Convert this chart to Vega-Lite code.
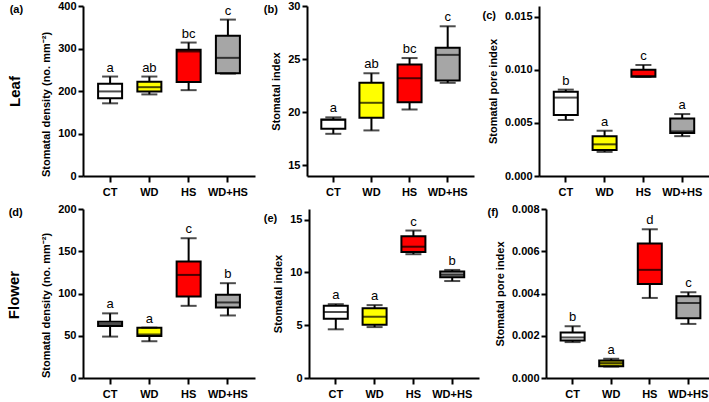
{
"$schema": "https://vega.github.io/schema/vega-lite/v6.json",
"padding": {"left": 6, "top": 0, "right": 0, "bottom": 0},
"datasets": {"d": [
{"panel":"a","group":"CT","lo":171,"q1":183,"med":199,"q3":217,"hi":234,"letter":"a"},
{"panel":"a","group":"WD","lo":192,"q1":199,"med":209,"q3":222,"hi":234,"letter":"ab"},
{"panel":"a","group":"HS","lo":202,"q1":221,"med":293,"q3":297,"hi":314,"letter":"bc"},
{"panel":"a","group":"WD+HS","lo":241,"q1":242,"med":278,"q3":330,"hi":368,"letter":"c"},
{"panel":"b","group":"CT","lo":17.97,"q1":18.45,"med":19.28,"q3":19.32,"hi":19.52,"letter":"a"},
{"panel":"b","group":"WD","lo":18.29,"q1":19.48,"med":20.89,"q3":22.77,"hi":23.67,"letter":"ab"},
{"panel":"b","group":"HS","lo":20.26,"q1":20.95,"med":23.2,"q3":24.5,"hi":25.1,"letter":"bc"},
{"panel":"b","group":"WD+HS","lo":22.77,"q1":23.0,"med":25.4,"q3":26.06,"hi":28.09,"letter":"c"},
{"panel":"c","group":"CT","lo":0.00527,"q1":0.00574,"med":0.00738,"q3":0.00792,"hi":0.00813,"letter":"b"},
{"panel":"c","group":"WD","lo":0.00227,"q1":0.00245,"med":0.00298,"q3":0.00373,"hi":0.00426,"letter":"a"},
{"panel":"c","group":"HS","lo":0.00934,"q1":0.00934,"med":0.0094,"q3":0.0100,"hi":0.01045,"letter":"c"},
{"panel":"c","group":"WD+HS","lo":0.00375,"q1":0.00405,"med":0.0042,"q3":0.00542,"hi":0.00583,"letter":"a"},
{"panel":"d","group":"CT","lo":49,"q1":61.6,"med":63.9,"q3":66.7,"hi":76.5,"letter":"a"},
{"panel":"d","group":"WD","lo":43.5,"q1":49.8,"med":51.5,"q3":59.6,"hi":59.6,"letter":"a"},
{"panel":"d","group":"HS","lo":85.4,"q1":96.5,"med":122,"q3":137.8,"hi":165.4,"letter":"c"},
{"panel":"d","group":"WD+HS","lo":74,"q1":83.5,"med":89.4,"q3":98.4,"hi":112.2,"letter":"b"},
{"panel":"e","group":"CT","lo":4.61,"q1":5.6,"med":6.25,"q3":6.85,"hi":6.99,"letter":"a"},
{"panel":"e","group":"WD","lo":4.82,"q1":5.03,"med":5.8,"q3":6.61,"hi":6.9,"letter":"a"},
{"panel":"e","group":"HS","lo":11.72,"q1":11.93,"med":12.43,"q3":13.42,"hi":13.96,"letter":"c"},
{"panel":"e","group":"WD+HS","lo":9.18,"q1":9.54,"med":9.78,"q3":10.08,"hi":10.23,"letter":"b"},
{"panel":"f","group":"CT","lo":0.0017,"q1":0.00178,"med":0.00192,"q3":0.00215,"hi":0.00245,"letter":"b"},
{"panel":"f","group":"WD","lo":0.00054,"q1":0.00056,"med":0.0007,"q3":0.00083,"hi":0.00091,"letter":"a"},
{"panel":"f","group":"HS","lo":0.00379,"q1":0.00445,"med":0.00512,"q3":0.00637,"hi":0.00704,"letter":"d"},
{"panel":"f","group":"WD+HS","lo":0.00256,"q1":0.00283,"med":0.00355,"q3":0.00387,"hi":0.00406,"letter":"c"}
]},
"data": {"name": "d"},
"spacing": 6,
"resolve": {"scale": {"color": "independent"}},
"vconcat": [
{
"title": {"text": "Leaf", "orient": "left", "anchor": "middle", "fontSize": 15, "offset": -13, "dx": 7},
"spacing": 8,
"resolve": {"scale": {"color": "independent"}},
"hconcat": [
{
"width": 172, "height": 170,
"title": {"text": "(a)", "anchor": "start", "frame": "bounds", "offset": -15, "dx": -31},
"transform": [{"filter": "datum.panel === 'a'"}],
"encoding": {"x": {"field": "group", "type": "nominal", "sort": ["CT","WD","HS","WD+HS"], "scale": {"paddingInner": 0.4, "paddingOuter": 0.39}, "axis": {"title": null, "labelAngle": 0}}},
"layer": [
{"mark": {"type": "rule", "strokeWidth": 2, "color": "black"}, "encoding": {"y": {"field": "lo", "type": "quantitative", "scale": {"domain": [0, 400]}, "axis": {"title": "Stomatal density (no. mm⁻²)", "values": [0,100,200,300,400], "titleY": 98}}, "y2": {"field": "hi"}}},
{"mark": {"type": "bar", "width": 24, "stroke": "black", "strokeWidth": 2}, "encoding": {"y": {"field": "q1", "type": "quantitative"}, "y2": {"field": "q3"}, "color": {"field": "group", "type": "nominal", "scale": {"domain": ["CT","WD","HS","WD+HS"], "range": ["#ffffff","#ffff00","#ff0000","#a6a6a6"]}, "legend": null}}},
{"mark": {"type": "tick", "size": 24, "thickness": 2, "color": "black"}, "encoding": {"y": {"field": "med", "type": "quantitative"}}},
{"mark": {"type": "tick", "size": 16, "thickness": 2, "color": "black"}, "encoding": {"y": {"field": "lo", "type": "quantitative"}}},
{"mark": {"type": "tick", "size": 16, "thickness": 2, "color": "black"}, "encoding": {"y": {"field": "hi", "type": "quantitative"}}},
{"mark": {"type": "text", "dy": -5, "baseline": "alphabetic", "fontSize": 13, "color": "black"}, "encoding": {"y": {"field": "hi", "type": "quantitative"}, "text": {"field": "letter"}}}
]
},
{
"width": 167, "height": 170,
"title": {"text": "(b)", "anchor": "start", "frame": "bounds", "offset": -15, "dx": -7},
"transform": [{"filter": "datum.panel === 'b'"}],
"encoding": {"x": {"field": "group", "type": "nominal", "sort": ["CT","WD","HS","WD+HS"], "scale": {"paddingInner": 0.4, "paddingOuter": 0.39}, "axis": {"title": null, "labelAngle": 0}}},
"layer": [
{"mark": {"type": "rule", "strokeWidth": 2, "color": "black"}, "encoding": {"y": {"field": "lo", "type": "quantitative", "scale": {"domain": [15, 30], "zero": false}, "axis": {"title": "Stomatal index", "values": [15,20,25,30]}}, "y2": {"field": "hi"}}},
{"mark": {"type": "bar", "width": 24, "stroke": "black", "strokeWidth": 2}, "encoding": {"y": {"field": "q1", "type": "quantitative"}, "y2": {"field": "q3"}, "color": {"field": "group", "type": "nominal", "scale": {"domain": ["CT","WD","HS","WD+HS"], "range": ["#ffffff","#ffff00","#ff0000","#a6a6a6"]}, "legend": null}}},
{"mark": {"type": "tick", "size": 24, "thickness": 2, "color": "black"}, "encoding": {"y": {"field": "med", "type": "quantitative"}}},
{"mark": {"type": "tick", "size": 16, "thickness": 2, "color": "black"}, "encoding": {"y": {"field": "lo", "type": "quantitative"}}},
{"mark": {"type": "tick", "size": 16, "thickness": 2, "color": "black"}, "encoding": {"y": {"field": "hi", "type": "quantitative"}}},
{"mark": {"type": "text", "dy": -5, "baseline": "alphabetic", "fontSize": 13, "color": "black"}, "encoding": {"y": {"field": "hi", "type": "quantitative"}, "text": {"field": "letter"}}}
]
},
{
"width": 170, "height": 170,
"title": {"text": "(c)", "anchor": "start", "frame": "bounds", "offset": -15, "dx": -5},
"transform": [{"filter": "datum.panel === 'c'"}],
"encoding": {"x": {"field": "group", "type": "nominal", "sort": ["CT","WD","HS","WD+HS"], "scale": {"paddingInner": 0.4, "paddingOuter": 0.39}, "axis": {"title": null, "labelAngle": 0}}},
"layer": [
{"mark": {"type": "rule", "strokeWidth": 2, "color": "black"}, "encoding": {"y": {"field": "lo", "type": "quantitative", "scale": {"domain": [0, 0.015]}, "axis": {"title": "Stomatal pore index", "values": [0,0.005,0.01,0.015], "format": ".3f"}}, "y2": {"field": "hi"}}},
{"mark": {"type": "bar", "width": 24, "stroke": "black", "strokeWidth": 2}, "encoding": {"y": {"field": "q1", "type": "quantitative"}, "y2": {"field": "q3"}, "color": {"field": "group", "type": "nominal", "scale": {"domain": ["CT","WD","HS","WD+HS"], "range": ["#ffffff","#ffff00","#ff0000","#a6a6a6"]}, "legend": null}}},
{"mark": {"type": "tick", "size": 24, "thickness": 2, "color": "black"}, "encoding": {"y": {"field": "med", "type": "quantitative"}}},
{"mark": {"type": "tick", "size": 16, "thickness": 2, "color": "black"}, "encoding": {"y": {"field": "lo", "type": "quantitative"}}},
{"mark": {"type": "tick", "size": 16, "thickness": 2, "color": "black"}, "encoding": {"y": {"field": "hi", "type": "quantitative"}}},
{"mark": {"type": "text", "dy": -5, "baseline": "alphabetic", "fontSize": 13, "color": "black"}, "encoding": {"y": {"field": "hi", "type": "quantitative"}, "text": {"field": "letter"}}}
]
}
]
},
{
"title": {"text": "Flower", "orient": "left", "anchor": "middle", "fontSize": 15, "offset": -13, "dx": 6},
"spacing": 8,
"resolve": {"scale": {"color": "independent"}},
"hconcat": [
{
"width": 172, "height": 169,
"title": {"text": "(d)", "anchor": "start", "frame": "bounds", "offset": -15, "dx": -32},
"transform": [{"filter": "datum.panel === 'd'"}],
"encoding": {"x": {"field": "group", "type": "nominal", "sort": ["CT","WD","HS","WD+HS"], "scale": {"paddingInner": 0.4, "paddingOuter": 0.39}, "axis": {"title": null, "labelAngle": 0}}},
"layer": [
{"mark": {"type": "rule", "strokeWidth": 2, "color": "black"}, "encoding": {"y": {"field": "lo", "type": "quantitative", "scale": {"domain": [0, 200]}, "axis": {"title": "Stomatal density (no. mm⁻²)", "values": [0,50,100,150,200], "titleY": 96}}, "y2": {"field": "hi"}}},
{"mark": {"type": "bar", "width": 24, "stroke": "black", "strokeWidth": 2}, "encoding": {"y": {"field": "q1", "type": "quantitative"}, "y2": {"field": "q3"}, "color": {"field": "group", "type": "nominal", "scale": {"domain": ["CT","WD","HS","WD+HS"], "range": ["#ffffff","#ffff00","#ff0000","#a6a6a6"]}, "legend": null}}},
{"mark": {"type": "tick", "size": 24, "thickness": 2, "color": "black"}, "encoding": {"y": {"field": "med", "type": "quantitative"}}},
{"mark": {"type": "tick", "size": 16, "thickness": 2, "color": "black"}, "encoding": {"y": {"field": "lo", "type": "quantitative"}}},
{"mark": {"type": "tick", "size": 16, "thickness": 2, "color": "black"}, "encoding": {"y": {"field": "hi", "type": "quantitative"}}},
{"mark": {"type": "text", "dy": -5, "baseline": "alphabetic", "fontSize": 13, "color": "black"}, "encoding": {"y": {"field": "hi", "type": "quantitative"}, "text": {"field": "letter"}}}
]
},
{
"width": 170, "height": 169,
"title": {"text": "(e)", "anchor": "start", "frame": "bounds", "offset": -15, "dx": -9},
"transform": [{"filter": "datum.panel === 'e'"}],
"encoding": {"x": {"field": "group", "type": "nominal", "sort": ["CT","WD","HS","WD+HS"], "scale": {"paddingInner": 0.4, "paddingOuter": 0.39}, "axis": {"title": null, "labelAngle": 0}}},
"layer": [
{"mark": {"type": "rule", "strokeWidth": 2, "color": "black"}, "encoding": {"y": {"field": "lo", "type": "quantitative", "scale": {"domain": [0, 15]}, "axis": {"title": "Stomatal index", "values": [0,5,10,15]}}, "y2": {"field": "hi"}}},
{"mark": {"type": "bar", "width": 24, "stroke": "black", "strokeWidth": 2}, "encoding": {"y": {"field": "q1", "type": "quantitative"}, "y2": {"field": "q3"}, "color": {"field": "group", "type": "nominal", "scale": {"domain": ["CT","WD","HS","WD+HS"], "range": ["#ffffff","#ffff00","#ff0000","#a6a6a6"]}, "legend": null}}},
{"mark": {"type": "tick", "size": 24, "thickness": 2, "color": "black"}, "encoding": {"y": {"field": "med", "type": "quantitative"}}},
{"mark": {"type": "tick", "size": 16, "thickness": 2, "color": "black"}, "encoding": {"y": {"field": "lo", "type": "quantitative"}}},
{"mark": {"type": "tick", "size": 16, "thickness": 2, "color": "black"}, "encoding": {"y": {"field": "hi", "type": "quantitative"}}},
{"mark": {"type": "text", "dy": -5, "baseline": "alphabetic", "fontSize": 13, "color": "black"}, "encoding": {"y": {"field": "hi", "type": "quantitative"}, "text": {"field": "letter"}}}
]
},
{
"width": 169, "height": 169,
"title": {"text": "(f)", "anchor": "start", "frame": "bounds", "offset": -15, "dx": -7},
"transform": [{"filter": "datum.panel === 'f'"}],
"encoding": {"x": {"field": "group", "type": "nominal", "sort": ["CT","WD","HS","WD+HS"], "scale": {"paddingInner": 0.4, "paddingOuter": 0.39}, "axis": {"title": null, "labelAngle": 0}}},
"layer": [
{"mark": {"type": "rule", "strokeWidth": 2, "color": "black"}, "encoding": {"y": {"field": "lo", "type": "quantitative", "scale": {"domain": [0, 0.008]}, "axis": {"title": "Stomatal pore index", "values": [0,0.002,0.004,0.006,0.008], "format": ".3f"}}, "y2": {"field": "hi"}}},
{"mark": {"type": "bar", "width": 24, "stroke": "black", "strokeWidth": 2}, "encoding": {"y": {"field": "q1", "type": "quantitative"}, "y2": {"field": "q3"}, "color": {"field": "group", "type": "nominal", "scale": {"domain": ["CT","WD","HS","WD+HS"], "range": ["#ffffff","#c8c400","#ff0000","#a6a6a6"]}, "legend": null}}},
{"mark": {"type": "tick", "size": 24, "thickness": 2, "color": "black"}, "encoding": {"y": {"field": "med", "type": "quantitative"}}},
{"mark": {"type": "tick", "size": 16, "thickness": 2, "color": "black"}, "encoding": {"y": {"field": "lo", "type": "quantitative"}}},
{"mark": {"type": "tick", "size": 16, "thickness": 2, "color": "black"}, "encoding": {"y": {"field": "hi", "type": "quantitative"}}},
{"mark": {"type": "text", "dy": -5, "baseline": "alphabetic", "fontSize": 13, "color": "black"}, "encoding": {"y": {"field": "hi", "type": "quantitative"}, "text": {"field": "letter"}}}
]
}
]
}
],
"config": {
"font": "Liberation Sans",
"view": {"stroke": null},
"axis": {"grid": false, "domainColor": "black", "domainWidth": 2, "tickColor": "black", "tickWidth": 2, "tickSize": 5, "labelColor": "black", "labelFont": "Liberation Sans", "labelFontSize": 11, "labelFontWeight": "bold", "labelPadding": 2, "titleFont": "Liberation Sans", "titleFontSize": 11, "titleFontWeight": "bold", "titleColor": "black", "titlePadding": 6},
"axisX": {"labelPadding": 4, "tickSize": 6},
"title": {"font": "Liberation Sans", "fontSize": 11, "fontWeight": "bold", "color": "black"},
"text": {"font": "Liberation Sans"}
}
}
